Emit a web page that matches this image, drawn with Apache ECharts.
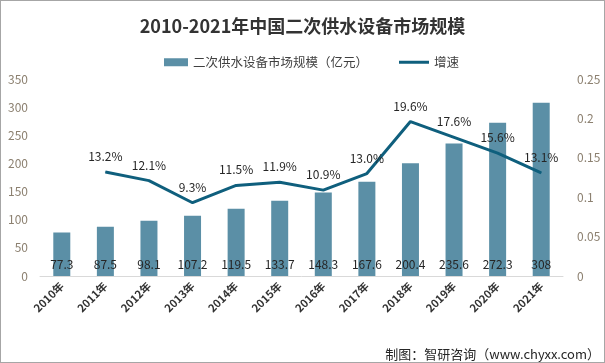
<!DOCTYPE html>
<html><head><meta charset="utf-8">
<script src="https://cdn.jsdelivr.net/npm/echarts@6/dist/echarts.min.js"></script>
<style>html,body{margin:0;padding:0;background:#fff}#c{width:605px;height:363px;box-sizing:border-box;border:1px solid #a6a6a6}</style>
</head><body><div id="c"></div>
<script>
const categories = ['2010年','2011年','2012年','2013年','2014年','2015年','2016年','2017年','2018年','2019年','2020年','2021年'];
const marketSize = [77.3, 87.5, 98.1, 107.2, 119.5, 133.7, 148.3, 167.6, 200.4, 235.6, 272.3, 308];
const growth = [null, 0.132, 0.121, 0.093, 0.115, 0.119, 0.109, 0.130, 0.196, 0.176, 0.156, 0.131];
const leftTicks = {min: 0, max: 350, interval: 50};
const rightTicks = {min: 0, max: 0.25, interval: 0.05};

const chart = echarts.init(document.getElementById('c'));
const font = '"Noto Sans CJK SC",sans-serif';
chart.setOption({
  animation: false,
  title: {text: '2010-2021年中国二次供水设备市场规模', left: 'center', top: 11,
    textStyle: {fontSize: 18, fontWeight: 'bold', color: '#333', fontFamily: font}},
  legend: [
    {top: 50, left: 158, itemWidth: 24, itemHeight: 8,
      textStyle: {fontSize: 12.5, color: '#404040', fontFamily: font},
      data: [{name: '二次供水设备市场规模（亿元）', icon: 'rect'}]},
    {top: 50, left: 393, itemWidth: 30, itemHeight: 3,
      textStyle: {fontSize: 12.5, color: '#404040', fontFamily: font},
      data: [{name: '增速', icon: 'rect'}]}
  ],
  grid: {left: 39, right: 41, top: 78, bottom: 86, containLabel: false},
  xAxis: {type: 'category', data: categories,
    axisLine: {lineStyle: {color: '#d9d9d9'}}, axisTick: {show: false},
    axisLabel: {rotate: 45, fontSize: 11, fontWeight: 'bold', color: '#333', fontFamily: font, margin: 8}},
  yAxis: [
    {type: 'value', min: leftTicks.min, max: leftTicks.max, interval: leftTicks.interval,
      splitLine: {show: false}, axisLine: {show: false}, axisTick: {show: false},
      axisLabel: {fontSize: 12, color: '#8c8070', fontFamily: font, margin: 12}},
    {type: 'value', min: rightTicks.min, max: rightTicks.max, interval: rightTicks.interval,
      splitLine: {show: false}, axisLine: {show: false}, axisTick: {show: false},
      axisLabel: {fontSize: 12, color: '#8c8070', fontFamily: font, margin: 14}}
  ],
  series: [
    {name: '二次供水设备市场规模（亿元）', type: 'bar', data: marketSize, barWidth: 17,
      itemStyle: {color: '#5b8fa6'},
      label: {show: true, position: 'insideBottom', distance: 6, fontSize: 12, color: '#262626', fontFamily: font}},
    {name: '增速', type: 'line', yAxisIndex: 1, data: growth, symbol: 'circle', symbolSize: 1, connectNulls: false,
      lineStyle: {color: '#0f5f7d', width: 3}, itemStyle: {color: '#0f5f7d'},
      label: {show: true, position: 'top', distance: 9, fontSize: 12, color: '#262626', fontFamily: font,
        formatter: p => (p.value * 100).toFixed(1) + '%'}}
  ],
  graphic: [{type: 'text', right: 4, bottom: 1,
    style: {text: '制图：智研咨询（www.chyxx.com）', fontSize: 13, fill: '#262626', fontFamily: font}}]
});
</script></body></html>
